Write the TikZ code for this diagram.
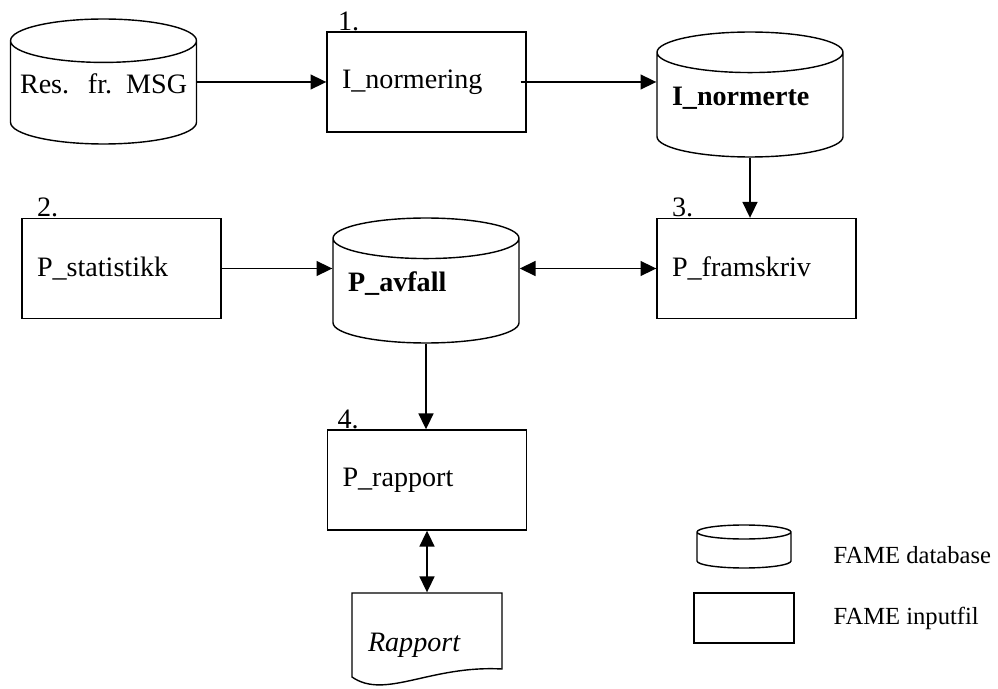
\documentclass[tikz,border=0pt]{standalone}
\usepackage{fontspec}
\setmainfont{Liberation Serif}
\usetikzlibrary{arrows.meta,shapes.geometric}

\newcommand{\dblabel}[1]{\smash{\raisebox{-0.02cm}{#1}}}

\begin{document}
\begin{tikzpicture}[x=0.02cm,y=-0.02cm,>={Triangle[length=9pt,width=8.5pt]},thick,
  prog/.style={rectangle,draw,minimum width=3.98cm,minimum height=2cm,
    text width=3.38cm,align=left,inner sep=0pt,font=\fontsize{16}{19}\selectfont},
  base/.style={cylinder,shape border rotate=90,draw,aspect=0.26,anchor=shape center,
    minimum width=3.72cm,minimum height=2.5cm,text width=3.12cm,align=left,
    inner sep=0pt,font=\fontsize{16}{19}\selectfont},
  num/.style={anchor=south west,inner sep=0pt,font=\fontsize{16}{19}\selectfont},
  legend/.style={anchor=west,inner sep=0pt,font=\fontsize{14}{17}\selectfont}]
  \useasboundingbox (0,0) rectangle (998,689);

  % databases
  \node[base,align=center,text width=3.34cm] (res) at (103.5,81.5) {\dblabel{Res.\ \ fr. MSG}};
  \node[base,font=\fontsize{16}{19}\selectfont\bfseries] (inormerte) at (750,94.5) {\dblabel{I\_normerte}};
  \node[base,font=\fontsize{16}{19}\selectfont\bfseries] (pavfall) at (426,280.5) {\dblabel{P\_avfall}};

  % programs
  \node[prog] (inorm) at (426.5,82) {I\_normering};
  \node[prog] (pstat) at (121.5,268.5) {P\_statistikk};
  \node[prog] (pfram) at (756.5,268.5) {P\_framskriv};
  \node[prog] (prap) at (427,480) {P\_rapport};

  \node[num] (n1) at ([xshift=0.22cm]inorm.north west) {1.};
  \node[num] (n2) at ([xshift=0.3cm]pstat.north west) {2.};
  \node[num] (n3) at ([xshift=0.3cm]pfram.north west) {3.};
  \node[num] (n4) at ([xshift=0.2cm]prap.north west) {4.};

  % report
  \node[rectangle,minimum width=3cm,minimum height=2.08cm,text width=2.36cm,
    align=left,inner sep=0pt,font=\fontsize{16}{19}\selectfont\itshape] (rap) at (427,645) {Rapport};
  \draw (352,677) -- (352,593) -- (502,593) -- (502,669)
    .. controls (430,665) and (385,700) .. cycle;

  % legend
  \node[base,aspect=0.28,minimum width=1.88cm,minimum height=0.86cm,text width=1cm] (legdb) at (744,546.5) {};
  \node[prog,minimum width=2cm,minimum height=1cm,text width=1.6cm] (legprog) at (744,618) {};
  \node[legend] (legdbtxt) at (833,555) {FAME database};
  \node[legend] (legprogtxt) at (833,618) {FAME inputfil};

  \path[->]
    (inorm.west -| res.east) edge (inorm.west)
    ([xshift=-0.12cm]inorm.east) edge (inorm.east -| inormerte.west)
    (inormerte.south) edge (inormerte.south |- pfram.north)
    (pstat) edge (pstat.east -| pavfall.west)
    (pavfall.south) edge (pavfall.south |- prap.north);
  \path[<->]
    (pfram.west -| pavfall.east) edge (pfram.west)
    (prap.south) edge (prap.south |- rap.north);
\end{tikzpicture}
\end{document}
